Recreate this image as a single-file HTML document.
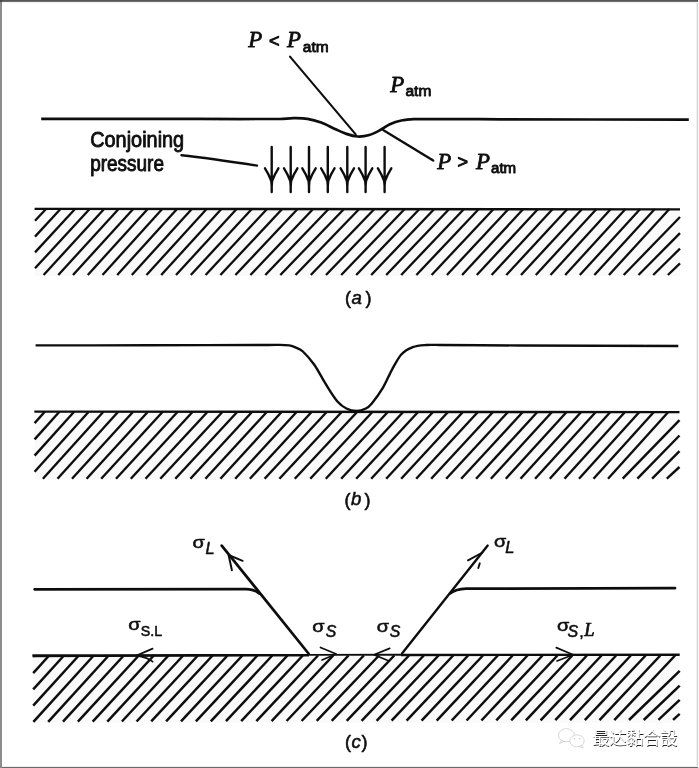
<!DOCTYPE html>
<html lang="zh"><head><meta charset="utf-8"><title>Conjoining pressure diagram</title>
<style>
html,body{margin:0;padding:0;background:#fff;}
body{width:699px;height:768px;overflow:hidden;}
svg{display:block;}
</style></head>
<body>
<svg width="699" height="768" viewBox="0 0 699 768">
<defs><filter id="b" x="-2%" y="-2%" width="104%" height="104%"><feGaussianBlur stdDeviation="0.65"/></filter><filter id="b2"><feGaussianBlur stdDeviation="0.3"/></filter></defs>
<rect width="699" height="768" fill="#fff"/>
<g filter="url(#b)">
<path d="M41.2,118.9 C94.1,118.9 147.1,118.9 200.0,118.9 C226.7,118.9 253.3,119.2 280.0,119.0 C284.6,119.0 289.1,118.2 293.7,118.2 C298.3,118.2 302.9,118.1 307.5,118.8 C312.1,119.5 316.6,120.8 321.2,122.5 C325.8,124.2 330.3,126.8 334.9,128.9 C338.7,130.6 342.6,132.6 346.4,133.9 C350.2,135.2 354.0,136.3 357.8,136.5 C361.6,136.7 365.5,136.1 369.3,135.0 C373.1,133.9 376.9,131.8 380.7,129.8 C383.8,128.2 386.8,125.6 389.9,124.2 C393.7,122.5 397.5,121.3 401.3,120.5 C405.5,119.6 409.8,119.3 414.0,119.2 C442.7,118.9 471.3,119.2 500.0,119.3 C562.9,119.4 625.9,119.6 688.8,119.7" fill="none" stroke="#111" stroke-width="2.7" stroke-linecap="butt"/>
<g stroke="#111" stroke-width="2.1" stroke-linecap="round" fill="none"><line x1="290" y1="56.6" x2="355.7" y2="134.4"/><line x1="383.5" y1="130.3" x2="433.2" y2="160.6" stroke-width="2.4"/><path d="M181.5,155.2 C200,157.2 235,162.2 257,165.6" stroke-width="2.4"/></g>
<g stroke="#111" stroke-width="2.4" fill="none" stroke-linecap="round" stroke-linejoin="round"><path d="M271.7,147 V192 M265.0,168.3 Q268.7,174 271.3,181 L271.7,186 L272.1,181 Q274.7,174 278.4,168.3"/><path d="M290.7,147 V192 M284.0,168.3 Q287.7,174 290.3,181 L290.7,186 L291.1,181 Q293.7,174 297.4,168.3"/><path d="M309,147 V192 M302.3,168.3 Q306.0,174 308.6,181 L309,186 L309.4,181 Q312.0,174 315.7,168.3"/><path d="M327.8,147 V192 M321.1,168.3 Q324.8,174 327.4,181 L327.8,186 L328.2,181 Q330.8,174 334.5,168.3"/><path d="M347.3,147 V192 M340.6,168.3 Q344.3,174 346.9,181 L347.3,186 L347.7,181 Q350.3,174 354.0,168.3"/><path d="M365.6,147 V192 M358.9,168.3 Q362.6,174 365.2,181 L365.6,186 L366.0,181 Q368.6,174 372.3,168.3"/><path d="M384.6,147 V192 M377.9,168.3 Q381.6,174 384.2,181 L384.6,186 L385.0,181 Q387.6,174 391.3,168.3"/></g>
<line x1="34.6" y1="208.9" x2="680" y2="209.4" stroke="#111" stroke-width="2.4"/>
<rect x="35" y="209" width="645.0" height="67.0" fill="#000" opacity="0.02"/><g stroke="#111" stroke-width="2.3" stroke-linecap="butt"><line x1="35.0" y1="220.8" x2="46.0" y2="209.0"/><line x1="35.0" y1="236.6" x2="60.5" y2="209.0"/><line x1="35.0" y1="252.4" x2="75.0" y2="209.0"/><line x1="35.0" y1="268.3" x2="89.6" y2="209.0"/><line x1="43.6" y1="275.0" x2="104.1" y2="209.0"/><line x1="58.3" y1="275.0" x2="118.6" y2="209.0"/><line x1="73.0" y1="275.0" x2="133.2" y2="209.0"/><line x1="87.8" y1="275.0" x2="147.7" y2="209.0"/><line x1="102.5" y1="275.0" x2="162.2" y2="209.0"/><line x1="117.2" y1="275.0" x2="177.0" y2="209.0"/><line x1="131.8" y1="275.0" x2="191.8" y2="209.0"/><line x1="146.5" y1="275.0" x2="206.6" y2="209.0"/><line x1="161.2" y1="275.0" x2="221.4" y2="209.0"/><line x1="176.0" y1="275.0" x2="236.6" y2="209.0"/><line x1="190.8" y1="275.0" x2="251.8" y2="209.0"/><line x1="205.6" y1="275.0" x2="267.0" y2="209.0"/><line x1="220.4" y1="275.0" x2="282.2" y2="209.0"/><line x1="235.4" y1="275.0" x2="297.6" y2="209.0"/><line x1="250.4" y1="275.0" x2="313.1" y2="209.0"/><line x1="265.3" y1="275.0" x2="328.6" y2="209.0"/><line x1="280.3" y1="275.0" x2="344.0" y2="209.0"/><line x1="295.5" y1="275.0" x2="359.2" y2="209.0"/><line x1="310.8" y1="275.0" x2="374.4" y2="209.0"/><line x1="326.0" y1="275.0" x2="389.5" y2="209.0"/><line x1="341.2" y1="275.0" x2="404.7" y2="209.0"/><line x1="356.2" y1="275.0" x2="419.5" y2="209.0"/><line x1="371.2" y1="275.0" x2="434.3" y2="209.0"/><line x1="386.2" y1="275.0" x2="449.2" y2="209.0"/><line x1="401.2" y1="275.0" x2="464.0" y2="209.0"/><line x1="416.4" y1="275.0" x2="478.8" y2="209.0"/><line x1="431.6" y1="275.0" x2="493.6" y2="209.0"/><line x1="446.9" y1="275.0" x2="508.5" y2="209.0"/><line x1="462.1" y1="275.0" x2="523.3" y2="209.0"/><line x1="476.8" y1="275.0" x2="538.0" y2="209.0"/><line x1="491.6" y1="275.0" x2="552.7" y2="209.0"/><line x1="506.3" y1="275.0" x2="567.4" y2="209.0"/><line x1="521.0" y1="275.0" x2="582.1" y2="209.0"/><line x1="535.8" y1="275.0" x2="596.5" y2="209.0"/><line x1="550.5" y1="275.0" x2="610.8" y2="209.0"/><line x1="565.2" y1="275.0" x2="625.5" y2="209.0"/><line x1="579.8" y1="275.0" x2="640.2" y2="209.0"/><line x1="594.4" y1="275.0" x2="654.8" y2="209.0"/><line x1="609.0" y1="275.0" x2="669.4" y2="209.0"/><line x1="623.7" y1="275.0" x2="680.0" y2="217.0"/><line x1="638.5" y1="275.0" x2="680.0" y2="233.1"/><line x1="653.2" y1="275.0" x2="680.0" y2="248.6"/><line x1="667.9" y1="275.0" x2="680.0" y2="263.4"/></g>
<path d="M35.6,345.4 C73.7,345.4 111.9,345.4 150.0,345.3 C186.7,345.2 223.3,345.1 260.0,345.0 C266.7,345.0 273.3,344.8 280.0,344.9 C283.1,344.9 286.1,344.9 289.2,345.4 C291.5,345.8 293.7,346.6 296.0,347.6 C298.3,348.6 300.6,349.3 302.9,351.5 C306.7,355.1 310.5,359.4 314.3,364.8 C318.1,370.3 322.0,378.1 325.8,384.2 C329.6,390.2 333.4,396.7 337.2,401.2 C340.3,404.8 343.3,407.0 346.4,408.5 C349.8,410.2 353.3,410.9 356.7,410.9 C359.7,410.9 362.8,410.0 365.8,408.5 C367.7,407.6 369.7,406.0 371.6,403.7 C375.4,399.1 379.2,393.9 383.0,387.6 C386.1,382.5 389.1,374.8 392.2,369.3 C395.2,363.8 398.3,357.8 401.3,354.5 C405.1,350.4 409.0,348.6 412.8,347.2 C417.4,345.5 421.9,345.4 426.5,345.0 C431.0,344.6 435.5,345.0 440.0,345.0 C466.7,345.1 493.3,345.4 520.0,345.5 C572.8,345.7 625.5,345.8 678.3,346.0" fill="none" stroke="#111" stroke-width="2.4" stroke-linecap="butt"/>
<line x1="34.3" y1="411.6" x2="679.5" y2="412.1" stroke="#111" stroke-width="2.4"/>
<rect x="34.6" y="411.8" width="644.9" height="67.9" fill="#000" opacity="0.02"/><g stroke="#111" stroke-width="2.4" stroke-linecap="butt"><line x1="34.6" y1="423.1" x2="44.8" y2="411.8"/><line x1="34.6" y1="439.4" x2="59.4" y2="411.8"/><line x1="34.6" y1="455.6" x2="74.1" y2="411.8"/><line x1="34.6" y1="471.8" x2="88.7" y2="411.8"/><line x1="42.9" y1="478.7" x2="103.4" y2="411.8"/><line x1="57.5" y1="478.7" x2="118.2" y2="411.8"/><line x1="72.0" y1="478.7" x2="133.1" y2="411.8"/><line x1="86.6" y1="478.7" x2="147.9" y2="411.8"/><line x1="101.2" y1="478.7" x2="162.7" y2="411.8"/><line x1="116.0" y1="478.7" x2="177.7" y2="411.8"/><line x1="130.8" y1="478.7" x2="192.7" y2="411.8"/><line x1="145.5" y1="478.7" x2="207.6" y2="411.8"/><line x1="160.3" y1="478.7" x2="222.6" y2="411.8"/><line x1="175.3" y1="478.7" x2="237.4" y2="411.8"/><line x1="190.4" y1="478.7" x2="252.2" y2="411.8"/><line x1="205.4" y1="478.7" x2="267.0" y2="411.8"/><line x1="220.4" y1="478.7" x2="281.8" y2="411.8"/><line x1="235.2" y1="478.7" x2="296.8" y2="411.8"/><line x1="249.9" y1="478.7" x2="311.8" y2="411.8"/><line x1="264.6" y1="478.7" x2="326.9" y2="411.8"/><line x1="279.4" y1="478.7" x2="341.9" y2="411.8"/><line x1="294.8" y1="478.7" x2="357.3" y2="411.8"/><line x1="310.3" y1="478.7" x2="372.6" y2="411.8"/><line x1="325.8" y1="478.7" x2="388.0" y2="411.8"/><line x1="341.2" y1="478.7" x2="403.4" y2="411.8"/><line x1="356.2" y1="478.7" x2="418.3" y2="411.8"/><line x1="371.2" y1="478.7" x2="433.2" y2="411.8"/><line x1="386.2" y1="478.7" x2="448.2" y2="411.8"/><line x1="401.2" y1="478.7" x2="463.1" y2="411.8"/><line x1="416.2" y1="478.7" x2="478.1" y2="411.8"/><line x1="431.2" y1="478.7" x2="493.2" y2="411.8"/><line x1="446.2" y1="478.7" x2="508.2" y2="411.8"/><line x1="461.2" y1="478.7" x2="523.0" y2="411.8"/><line x1="476.1" y1="478.7" x2="537.6" y2="411.8"/><line x1="490.9" y1="478.7" x2="552.2" y2="411.8"/><line x1="505.8" y1="478.7" x2="566.8" y2="411.8"/><line x1="520.5" y1="478.7" x2="581.4" y2="411.8"/><line x1="535.1" y1="478.7" x2="596.0" y2="411.8"/><line x1="549.8" y1="478.7" x2="610.6" y2="411.8"/><line x1="564.5" y1="478.7" x2="625.2" y2="411.8"/><line x1="579.0" y1="478.7" x2="639.6" y2="411.8"/><line x1="593.5" y1="478.7" x2="654.1" y2="411.8"/><line x1="608.0" y1="478.7" x2="668.5" y2="411.8"/><line x1="622.7" y1="478.7" x2="679.5" y2="420.2"/><line x1="637.4" y1="478.7" x2="679.5" y2="435.5"/><line x1="652.1" y1="478.7" x2="679.5" y2="451.2"/><line x1="666.8" y1="478.7" x2="679.5" y2="467.0"/></g>
<g stroke="#111" fill="none" stroke-linecap="round" stroke-linejoin="round"><path d="M34.6,589.3 L246,589.1 Q254,589.2 259.5,593.6" stroke-width="2.7"/><path d="M675,588.2 L466,588.7 Q456,589 450,593.5" stroke-width="2.7"/><line x1="308.5" y1="653.5" x2="221.7" y2="545.6" stroke-width="2.7"/><line x1="402" y1="653.5" x2="487.7" y2="545.6" stroke-width="2.4"/><path d="M231.9,570.2 L228.6,555 L242.6,560.8" stroke-width="2"/><path d="M468,560.3 L482.5,552.5 M479.8,563.3 L478.3,568" stroke-width="1.9"/><path d="M152.6,648.6 L136.5,655.6 Q147,657 152.6,661.7" stroke-width="1.7"/><path d="M320.5,647.5 L336.2,654 L322,660" stroke-width="1.7"/><path d="M389.7,648.4 L374,654.7 L389,661" stroke-width="1.7"/><path d="M556.3,647.6 L573.1,654.8 L557,661" stroke-width="1.7"/></g>
<g stroke="#111"><polygon points="32.5,654.3 100,654.3 200,654.1 309,653.9 309,656.4 200,656.7 100,657.0 32.5,657.3" fill="#111" stroke="none"/><line x1="308" y1="654.9" x2="403" y2="654.8" stroke-width="1.9"/><line x1="401" y1="655" x2="679.7" y2="654.8" stroke-width="2.4"/></g>
<rect x="33.2" y="655.5" width="646.5" height="67.3" fill="#000" opacity="0.02"/><g stroke="#111" stroke-width="2.5" stroke-linecap="butt"><line x1="33.2" y1="656.6" x2="34.2" y2="655.5"/><line x1="33.2" y1="673.1" x2="49.1" y2="655.5"/><line x1="33.2" y1="689.4" x2="64.0" y2="655.5"/><line x1="33.2" y1="705.7" x2="78.8" y2="655.5"/><line x1="33.4" y1="721.8" x2="93.7" y2="655.5"/><line x1="48.2" y1="721.8" x2="108.7" y2="655.5"/><line x1="63.0" y1="721.7" x2="123.8" y2="655.5"/><line x1="77.9" y1="721.7" x2="138.8" y2="655.5"/><line x1="92.7" y1="721.6" x2="153.8" y2="655.5"/><line x1="107.3" y1="721.6" x2="168.5" y2="655.5"/><line x1="121.9" y1="721.5" x2="183.2" y2="655.5"/><line x1="136.6" y1="721.5" x2="197.9" y2="655.5"/><line x1="151.2" y1="721.4" x2="212.6" y2="655.5"/><line x1="166.1" y1="721.4" x2="227.5" y2="655.5"/><line x1="181.0" y1="721.4" x2="242.4" y2="655.5"/><line x1="195.9" y1="721.3" x2="257.4" y2="655.5"/><line x1="210.8" y1="721.3" x2="272.3" y2="655.5"/><line x1="226.0" y1="721.2" x2="287.5" y2="655.5"/><line x1="241.2" y1="721.2" x2="302.8" y2="655.5"/><line x1="256.4" y1="721.1" x2="318.0" y2="655.5"/><line x1="271.6" y1="721.1" x2="333.2" y2="655.5"/><line x1="286.6" y1="721.0" x2="348.5" y2="655.5"/><line x1="301.6" y1="721.0" x2="363.8" y2="655.5"/><line x1="316.7" y1="720.9" x2="379.0" y2="655.5"/><line x1="331.7" y1="720.9" x2="394.3" y2="655.5"/><line x1="346.7" y1="720.9" x2="409.0" y2="655.5"/><line x1="361.6" y1="720.8" x2="423.8" y2="655.5"/><line x1="376.6" y1="720.8" x2="438.5" y2="655.5"/><line x1="391.6" y1="720.7" x2="453.2" y2="655.5"/><line x1="406.6" y1="720.7" x2="468.1" y2="655.5"/><line x1="421.6" y1="720.6" x2="482.9" y2="655.5"/><line x1="436.7" y1="720.6" x2="497.8" y2="655.5"/><line x1="451.7" y1="720.5" x2="512.6" y2="655.5"/><line x1="466.6" y1="720.5" x2="527.5" y2="655.5"/><line x1="481.4" y1="720.5" x2="542.5" y2="655.5"/><line x1="496.3" y1="720.4" x2="557.4" y2="655.5"/><line x1="511.2" y1="720.4" x2="572.3" y2="655.5"/><line x1="525.9" y1="720.3" x2="586.9" y2="655.5"/><line x1="540.6" y1="720.3" x2="601.5" y2="655.5"/><line x1="555.3" y1="720.2" x2="616.1" y2="655.5"/><line x1="570.0" y1="720.2" x2="630.8" y2="655.5"/><line x1="584.8" y1="720.1" x2="645.6" y2="655.5"/><line x1="599.5" y1="720.1" x2="660.3" y2="655.5"/><line x1="614.3" y1="720.1" x2="675.1" y2="655.5"/><line x1="629.0" y1="720.0" x2="679.7" y2="670.8"/><line x1="643.7" y1="720.0" x2="679.7" y2="685.6"/><line x1="658.4" y1="719.9" x2="679.7" y2="699.9"/><line x1="673.1" y1="719.9" x2="679.7" y2="713.9"/></g>
<g fill="#111" stroke="#111" stroke-linejoin="round">
<text x="90.2" y="146.6" style='font-family:"Liberation Sans", sans-serif;font-size:21.8px;' textLength="94" lengthAdjust="spacingAndGlyphs" stroke-width="0.9">Conjoining</text>
<text x="90.2" y="170.7" style='font-family:"Liberation Sans", sans-serif;font-size:21.2px;' textLength="73.8" lengthAdjust="spacingAndGlyphs" stroke-width="0.9">pressure</text>
<text x="248.3" y="47.2" style='font-family:"Liberation Serif", serif;font-size:24px;font-style:italic;' textLength="14" lengthAdjust="spacingAndGlyphs" stroke-width="0.85">P</text>
<text x="269" y="47" style='font-family:"Liberation Sans", sans-serif;font-size:18px;' stroke-width="1.0">&lt;</text>
<text x="287" y="47.2" style='font-family:"Liberation Serif", serif;font-size:24px;font-style:italic;' textLength="14" lengthAdjust="spacingAndGlyphs" stroke-width="0.85">P</text>
<text x="302.8" y="52.2" style='font-family:"Liberation Sans", sans-serif;font-size:15.5px;' textLength="25.8" lengthAdjust="spacingAndGlyphs" stroke-width="0.9">atm</text>
<text x="390.2" y="91.5" style='font-family:"Liberation Serif", serif;font-size:24px;font-style:italic;' textLength="14" lengthAdjust="spacingAndGlyphs" stroke-width="0.85">P</text>
<text x="405.5" y="96" style='font-family:"Liberation Sans", sans-serif;font-size:15.5px;' textLength="25.8" lengthAdjust="spacingAndGlyphs" stroke-width="0.9">atm</text>
<text x="437.3" y="168.7" style='font-family:"Liberation Serif", serif;font-size:24px;font-style:italic;' textLength="14" lengthAdjust="spacingAndGlyphs" stroke-width="0.85">P</text>
<text x="457.6" y="168.4" style='font-family:"Liberation Sans", sans-serif;font-size:18px;' stroke-width="1.0">&gt;</text>
<text x="476" y="168.7" style='font-family:"Liberation Serif", serif;font-size:24px;font-style:italic;' textLength="14" lengthAdjust="spacingAndGlyphs" stroke-width="0.85">P</text>
<text x="491" y="173.2" style='font-family:"Liberation Sans", sans-serif;font-size:15.5px;' textLength="25.2" lengthAdjust="spacingAndGlyphs" stroke-width="0.9">atm</text>
<text x="345" y="304.2" style='font-family:"Liberation Sans", sans-serif;font-size:18px;' stroke-width="0.6">(</text>
<text x="351.4" y="303.9" style='font-family:"Liberation Sans", sans-serif;font-size:18.5px;font-style:italic;' stroke-width="0.6">a</text>
<text x="365.5" y="304.2" style='font-family:"Liberation Sans", sans-serif;font-size:18px;' stroke-width="0.6">)</text>
<text x="344.5" y="505.5" style='font-family:"Liberation Sans", sans-serif;font-size:18px;' stroke-width="0.6">(</text>
<text x="350.9" y="505.2" style='font-family:"Liberation Sans", sans-serif;font-size:18.5px;font-style:italic;' stroke-width="0.6">b</text>
<text x="364.5" y="505.5" style='font-family:"Liberation Sans", sans-serif;font-size:18px;' stroke-width="0.6">)</text>
<text x="345" y="748.2" style='font-family:"Liberation Sans", sans-serif;font-size:18px;' stroke-width="0.6">(</text>
<text x="351.4" y="747.9000000000001" style='font-family:"Liberation Sans", sans-serif;font-size:18.5px;font-style:italic;' stroke-width="0.6">c</text>
<text x="361.5" y="748.2" style='font-family:"Liberation Sans", sans-serif;font-size:18px;' stroke-width="0.6">)</text>
<text x="192.4" y="547.6" style='font-family:"Liberation Sans", sans-serif;font-size:17.2px;' textLength="12.3" lengthAdjust="spacingAndGlyphs" stroke-width="0.55">σ</text>
<text x="205.5" y="553.6" style='font-family:"Liberation Sans", sans-serif;font-size:16.5px;font-style:italic;' stroke-width="0.55">L</text>
<text x="494" y="547" style='font-family:"Liberation Sans", sans-serif;font-size:17.2px;' textLength="12.3" lengthAdjust="spacingAndGlyphs" stroke-width="0.55">σ</text>
<text x="505.3" y="553" style='font-family:"Liberation Sans", sans-serif;font-size:16.5px;font-style:italic;' stroke-width="0.55">L</text>
<text x="312.3" y="631.7" style='font-family:"Liberation Sans", sans-serif;font-size:17.2px;' textLength="12.3" lengthAdjust="spacingAndGlyphs" stroke-width="0.55">σ</text>
<text x="325.7" y="637.3" style='font-family:"Liberation Sans", sans-serif;font-size:15.8px;font-style:italic;' stroke-width="0.55">S</text>
<text x="376.8" y="631.7" style='font-family:"Liberation Sans", sans-serif;font-size:17.2px;' textLength="12.3" lengthAdjust="spacingAndGlyphs" stroke-width="0.55">σ</text>
<text x="389.7" y="637.3" style='font-family:"Liberation Sans", sans-serif;font-size:15.8px;font-style:italic;' stroke-width="0.55">S</text>
<text x="128.3" y="630" style='font-family:"Liberation Sans", sans-serif;font-size:17.2px;' textLength="12.3" lengthAdjust="spacingAndGlyphs" stroke-width="0.55">σ</text>
<text x="140.8" y="636.2" style='font-family:"Liberation Sans", sans-serif;font-size:15.2px;' textLength="21.3" lengthAdjust="spacingAndGlyphs" stroke-width="0.6">S.L</text>
<text x="557" y="630.8" style='font-family:"Liberation Sans", sans-serif;font-size:17.2px;' textLength="12.3" lengthAdjust="spacingAndGlyphs" stroke-width="0.55">σ</text>
<text x="567.6" y="636.5" style='font-family:"Liberation Sans", sans-serif;font-size:16px;font-style:italic;' stroke-width="0.55">S</text>
<text x="579.3" y="636.5" style='font-family:"Liberation Sans", sans-serif;font-size:16px;' stroke-width="0.55">,</text>
<text x="584.3" y="636.3" style='font-family:"Liberation Serif", serif;font-size:18.5px;font-style:italic;' stroke-width="0.7">L</text>
</g>
</g>
<g filter="url(#b2)"><g opacity="0.42"><g fill="#fff" stroke="#8a8a8a" stroke-width="0.8"><ellipse cx="566.5" cy="735.2" rx="8" ry="6.6"/><path d="M561,740.5 l-1.5,3 l4,-1.8z"/><ellipse cx="577" cy="740.8" rx="7.2" ry="6"/><path d="M581.5,745.4 l1.8,2.6 l-4.2,-1.4z"/></g><circle cx="574.3" cy="738.8" r="0.7" fill="#777"/><circle cx="579.7" cy="738.8" r="0.7" fill="#777"/></g><text x="592.7" y="745" style='font-family:"Liberation Sans","Noto Sans CJK SC",sans-serif;font-size:17.4px;' fill="#222" textLength="85.5">最达黏合設</text><text x="592.2" y="744" style='font-family:"Liberation Sans","Noto Sans CJK SC",sans-serif;font-size:17.4px;' fill="#fff" stroke="#fff" stroke-width="0.2" textLength="85.5">最达黏合設</text></g>
<rect x="696" y="0" width="1" height="768" fill="#f1f1f1"/>
<rect x="697" y="0" width="1" height="768" fill="#d2d2d2"/>
<rect x="698" y="0" width="1" height="768" fill="#f8f8f8"/>
<rect x="0" y="0" width="698" height="1" fill="#565656"/>
<rect x="0" y="1" width="698" height="1" fill="#6e6e6e"/>
<rect x="0" y="2" width="698" height="1" fill="#f3f3f3"/>
<rect x="0" y="766" width="698" height="1" fill="#ededed"/>
<rect x="0" y="767" width="698" height="1" fill="#6a6a6a"/>
<rect x="0" y="2" width="2" height="766" fill="#8c8c8c"/>
<rect x="0" y="0" width="2" height="2" fill="#484848"/>
</svg>
</body></html>
